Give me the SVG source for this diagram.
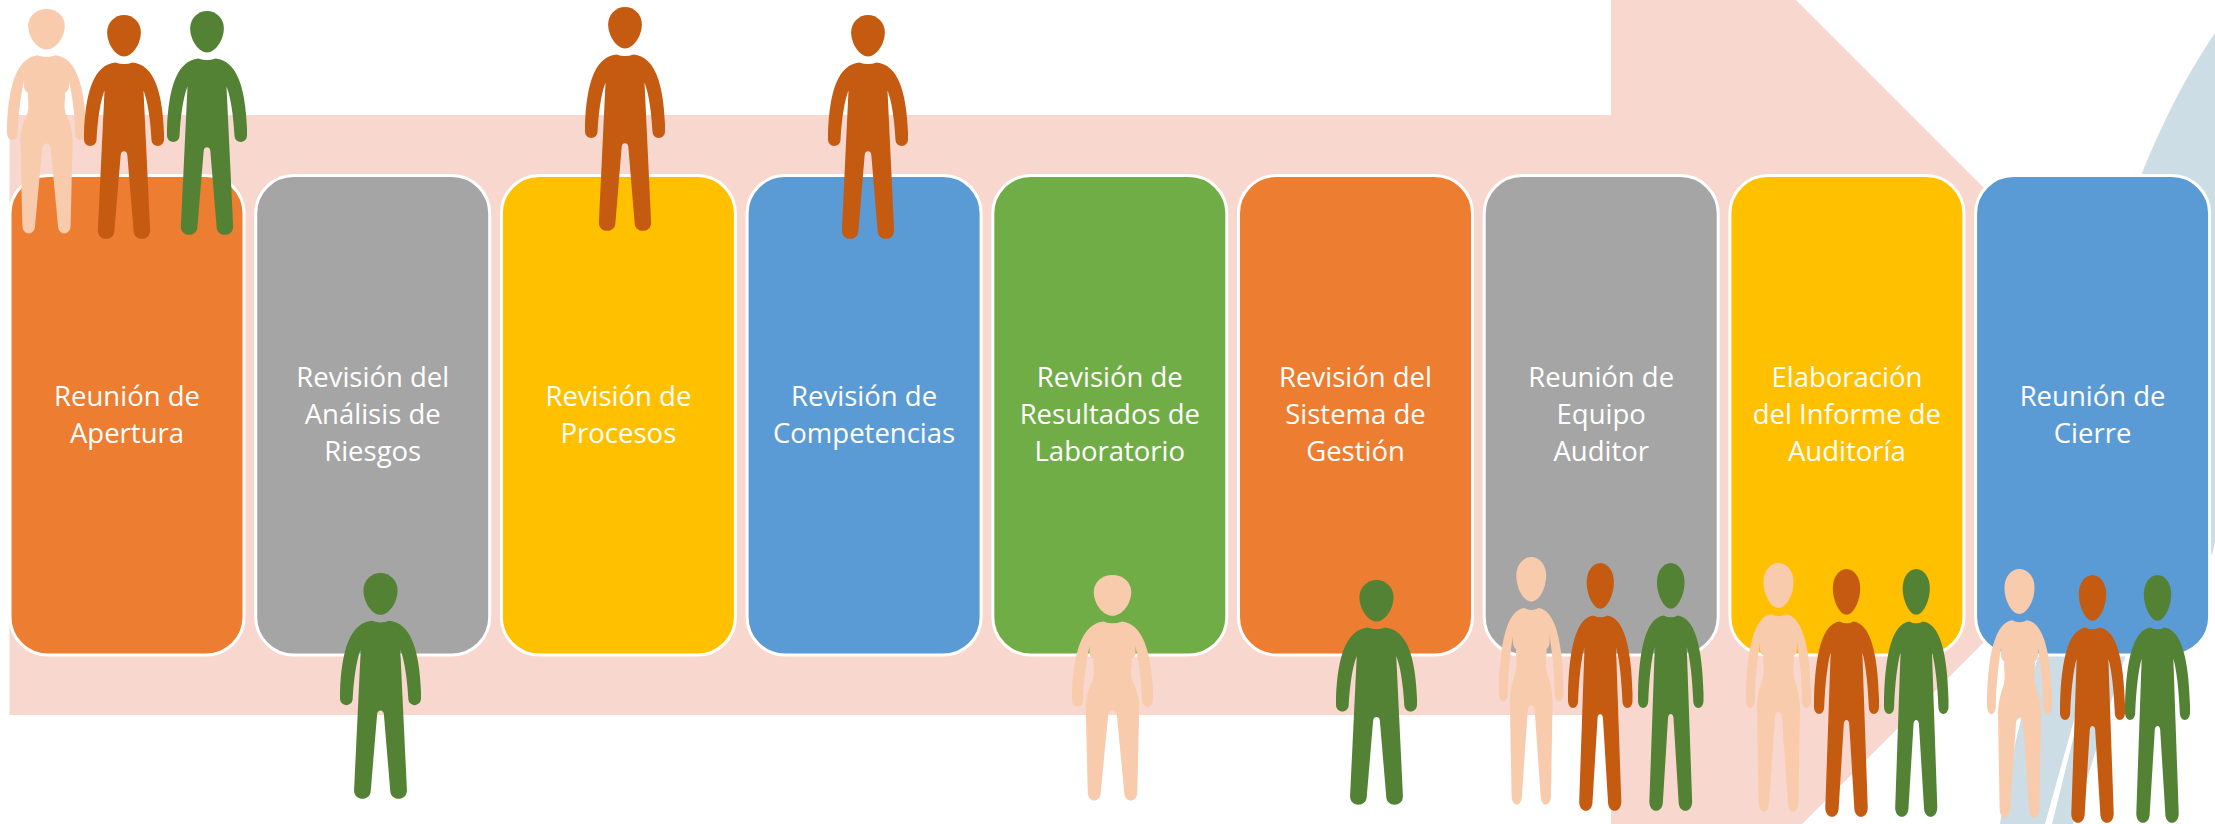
<svg xmlns="http://www.w3.org/2000/svg" width="2215" height="824" viewBox="0 0 2215 824">
<style>
.box{stroke:#fff;stroke-width:3}
.t{font-family:"Open Sans","Liberation Sans",sans-serif;font-size:27.5px;fill:#fff;text-anchor:middle}
.w{fill:#F8CBAD}.m{fill:#C55A11}.g{fill:#548235}
</style>
<defs>
<g id="man">
<path d="M121 0C149 0 172 23 172 52C172 88 146 125 121 125C96 125 70 88 70 52C70 23 93 0 121 0Z"/>
<path d="M95 143Q121 153 147 143C212 150 237 230 242 355L242 375C242 402 204 402 204 375C201 320 193 260 180 228L200 650C200 684 150 684 150 650L131 422C130 408 112 408 111 422L92 650C92 684 42 684 42 650L62 228C49 260 41 320 38 375C38 402 0 402 0 375L0 355C5 230 30 150 95 143Z"/>
</g>
<g id="woman">
<path d="M121 0C152 0 177 22 177 50C177 86 150 122 121 122C92 122 65 86 65 50C65 22 90 0 121 0Z"/>
<path d="M94 139Q121 150 149 139C212 146 237 230 242 350L242 372C242 402 209 402 209 372C208 320 200 260 189 212C192 235 190 245 178 252C180 270 172 290 180 315C192 340 201 365 201 395L195 650C195 684 156 684 156 650L134 420C133 400 109 400 108 420L86 650C86 684 47 684 47 650L41 395C41 365 50 340 62 315C70 290 62 270 64 252C52 245 50 235 53 212C42 260 34 320 33 372C33 402 0 402 0 372L0 350C5 230 30 146 94 139Z"/>
</g>
</defs>
<g id="background">
<path fill="#CDDDE6" d="M2215 33C2190 70 2165 115 2140 178L2190 300L2190 540L2212 555L2215 542Z"/>
<path fill="#CDDDE6" d="M2040 650C2022 710 2008 770 2000 824L2073 824L2125 657L2130 650Z"/>
<path fill="#fff" d="M2045 824L2052 824L2076 727L2085 690L2082 690L2072 727Z"/>
<polygon id="arrow" fill="#F8D7CE" points="9.500,115 1611,115 1611,-185 2211,415 1611,1015 1611,715 9.500,715"/>
</g>
<g id="box1"><rect class="box" x="10" y="175.500" width="234" height="479.500" rx="38" fill="#ED7D31"/><text class="t" x="127" y="406">Reunión de</text><text class="t" x="127" y="443">Apertura</text></g>
<g id="box2"><rect class="box" x="255.700" y="175.500" width="234" height="479.500" rx="38" fill="#A5A5A5"/><text class="t" x="372.700" y="387">Revisión del</text><text class="t" x="372.700" y="424">Análisis de</text><text class="t" x="372.700" y="461">Riesgos</text></g>
<g id="box3"><rect class="box" x="501.400" y="175.500" width="234" height="479.500" rx="38" fill="#FFC000"/><text class="t" x="618.400" y="406">Revisión de</text><text class="t" x="618.400" y="443">Procesos</text></g>
<g id="box4"><rect class="box" x="747.100" y="175.500" width="234" height="479.500" rx="38" fill="#5B9BD5"/><text class="t" x="864.100" y="406">Revisión de</text><text class="t" x="864.100" y="443">Competencias</text></g>
<g id="box5"><rect class="box" x="992.800" y="175.500" width="234" height="479.500" rx="38" fill="#70AD47"/><text class="t" x="1109.800" y="387">Revisión de</text><text class="t" x="1109.800" y="424">Resultados de</text><text class="t" x="1109.800" y="461">Laboratorio</text></g>
<g id="box6"><rect class="box" x="1238.500" y="175.500" width="234" height="479.500" rx="38" fill="#ED7D31"/><text class="t" x="1355.500" y="387">Revisión del</text><text class="t" x="1355.500" y="424">Sistema de</text><text class="t" x="1355.500" y="461">Gestión</text></g>
<g id="box7"><rect class="box" x="1484.200" y="175.500" width="234" height="479.500" rx="38" fill="#A5A5A5"/><text class="t" x="1601.200" y="387">Reunión de</text><text class="t" x="1601.200" y="424">Equipo</text><text class="t" x="1601.200" y="461">Auditor</text></g>
<g id="box8"><rect class="box" x="1729.900" y="175.500" width="234" height="479.500" rx="38" fill="#FFC000"/><text class="t" x="1846.900" y="387">Elaboración</text><text class="t" x="1846.900" y="424">del Informe de</text><text class="t" x="1846.900" y="461">Auditoría</text></g>
<g id="box9"><rect class="box" x="1975.600" y="175.500" width="234" height="479.500" rx="38" fill="#5B9BD5"/><text class="t" x="2092.600" y="406">Reunión de</text><text class="t" x="2092.600" y="443">Cierre</text></g>
<g id="p1"><use href="#woman" class="w" transform="translate(7 9) scale(.3264 .3323)"/></g>
<g id="p2"><use href="#man" class="m" transform="translate(84 15) scale(.3306 .3314)"/></g>
<g id="p3"><use href="#man" class="g" transform="translate(167 11) scale(.3306 .3314)"/></g>
<g id="p4"><use href="#man" class="m" transform="translate(585 7) scale(.3306 .3314)"/></g>
<g id="p5"><use href="#man" class="m" transform="translate(828 15) scale(.3306 .3314)"/></g>
<g id="p6"><use href="#man" class="g" transform="translate(340 573) scale(.3347 .3343)"/></g>
<g id="p7"><use href="#woman" class="w" transform="translate(1072 575) scale(.3347 .3338)"/></g>
<g id="p8"><use href="#man" class="g" transform="translate(1336 580) scale(.3347 .3328)"/></g>
<g id="p9"><use href="#woman" class="w" transform="translate(1499 557) scale(.2665 .3664)"/></g>
<g id="p10"><use href="#man" class="m" transform="translate(1568 563) scale(.2665 .3669)"/></g>
<g id="p11"><use href="#man" class="g" transform="translate(1638 563) scale(.2707 .3669)"/></g>
<g id="p12"><use href="#woman" class="w" transform="translate(1746 563) scale(.2686 .3679)"/></g>
<g id="p13"><use href="#man" class="m" transform="translate(1814 569) scale(.2686 .3669)"/></g>
<g id="p14"><use href="#man" class="g" transform="translate(1884 569) scale(.2665 .3669)"/></g>
<g id="p15"><use href="#woman" class="w" transform="translate(1987 569) scale(.2686 .3679)"/></g>
<g id="p16"><use href="#man" class="m" transform="translate(2060 575) scale(.2686 .3669)"/></g>
<g id="p17"><use href="#man" class="g" transform="translate(2125 575) scale(.2686 .3669)"/></g>
</svg>
